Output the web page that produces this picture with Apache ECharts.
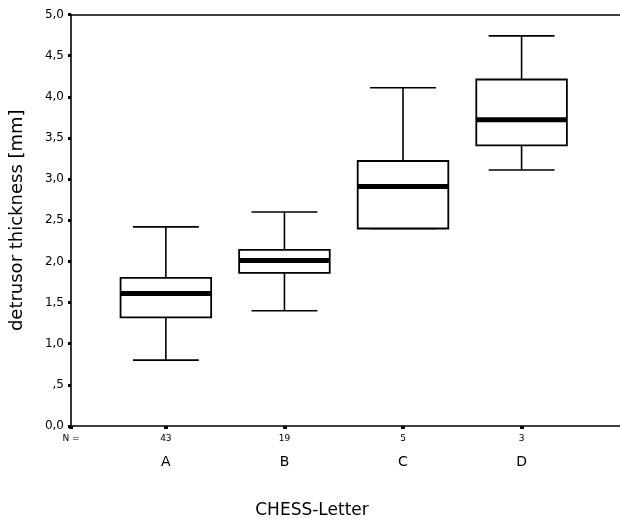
<!DOCTYPE html>
<html>
  <head>
    <meta charset="utf-8" />
    <title>Detrusor thickness by CHESS letter</title>
    <script src="https://cdn.jsdelivr.net/npm/echarts@6/dist/echarts.min.js"></script>
  </head>
  <body style="margin:0">
    <div id="main" style="width: 620px;height: 524px;"></div>
    <script type="text/javascript">
      // boxplot values (mm)
      var categories = ['A', 'B', 'C', 'D']
      var counts = [43, 19, 5, 3]
      var whiskerLow = [0.8, 1.4, 2.4, 3.11]
      var q1 = [1.32, 1.86, 2.4, 3.41]
      var median = [1.61, 2.01, 2.91, 3.72]
      var q3 = [1.8, 2.14, 3.22, 4.21]
      var whiskerHigh = [2.42, 2.6, 4.11, 4.74]
      var yTickLabels = ['0,0', ',5', '1,0', '1,5', '2,0', '2,5', '3,0', '3,5', '4,0', '4,5', '5,0']

      var myChart = echarts.init(document.getElementById('main'))
      var font = '"DejaVu Sans", sans-serif'
      var xMin = 0.2
      var xPos = categories.map(function (c, i) { return i + 1 })

      var boxData = categories.map(function (c, i) {
        return [i + 1, whiskerLow[i], q1[i], median[i], q3[i], whiskerHigh[i]]
      })

      function renderBox(params, api) {
        var x = api.value(0)
        var low = api.coord([x, api.value(1)])
        var lo = api.coord([x, api.value(2)])
        var mid = api.coord([x, api.value(3)])
        var hi = api.coord([x, api.value(4)])
        var high = api.coord([x, api.value(5)])
        var band = api.size([1, 0])[0]
        var bh = band * 0.382
        var ch = band * 0.278
        var cx = low[0]
        var line = { stroke: '#000', lineWidth: 1.6 }
        return {
          type: 'group',
          children: [
            { type: 'line', shape: { x1: cx, y1: high[1], x2: cx, y2: hi[1] }, style: line },
            { type: 'line', shape: { x1: cx - ch, y1: high[1], x2: cx + ch, y2: high[1] }, style: line },
            { type: 'line', shape: { x1: cx, y1: lo[1], x2: cx, y2: low[1] }, style: line },
            { type: 'line', shape: { x1: cx - ch, y1: low[1], x2: cx + ch, y2: low[1] }, style: line },
            { type: 'rect', shape: { x: cx - bh, y: hi[1], width: bh * 2, height: lo[1] - hi[1] },
              style: { fill: '#fff', stroke: '#000', lineWidth: 1.8 } },
            { type: 'line', shape: { x1: cx - bh, y1: mid[1], x2: cx + bh, y2: mid[1] },
              style: { stroke: '#000', lineWidth: 5 } }
          ]
        }
      }

      var option = {
        backgroundColor: '#fff',
        animation: false,
        grid: { left: 67.5, right: 0, top: 14.5, bottom: 97.5 },
        xAxis: [
          {
            type: 'value',
            min: xMin,
            max: 4.83,
            name: 'CHESS-Letter',
            nameLocation: 'middle',
            nameGap: 76,
            nameTextStyle: { fontFamily: font, fontSize: 17, color: '#000', padding: [0, 67, 0, 0] },
            axisLine: { lineStyle: { color: '#000', width: 1.6 } },
            axisTick: { customValues: [xMin].concat(xPos), length: 3, lineStyle: { color: '#000', width: 4 } },
            splitLine: { show: false },
            axisLabel: {
              customValues: [xMin].concat(xPos),
              margin: 6,
              formatter: function (v) {
                if (v < 1) return '{n|N =}'
                var i = Math.round(v) - 1
                return '{n|' + counts[i] + '}\n{l|' + categories[i] + '}'
              },
              rich: {
                n: { fontFamily: font, fontSize: 9, lineHeight: 14, color: '#000' },
                l: { fontFamily: font, fontSize: 14, lineHeight: 32, color: '#000' }
              }
            }
          },
          {
            type: 'value',
            position: 'top',
            min: xMin,
            max: 4.83,
            axisLine: { show: true, lineStyle: { color: '#000', width: 1.6 } },
            axisTick: { show: false },
            axisLabel: { show: false },
            splitLine: { show: false }
          }
        ],
        yAxis: {
          type: 'value',
          min: 0,
          max: 5,
          interval: 0.5,
          name: 'detrusor thickness [mm]',
          nameLocation: 'middle',
          nameGap: 45,
          nameTextStyle: { fontFamily: font, fontSize: 18, color: '#000' },
          axisLine: { show: true, lineStyle: { color: '#000', width: 1.6 } },
          axisTick: { show: true, length: 3, lineStyle: { color: '#000', width: 3 } },
          splitLine: { show: false },
          axisLabel: {
            margin: 7,
            fontFamily: font,
            fontSize: 12,
            color: '#000',
            formatter: function (v) { return yTickLabels[Math.round(v / 0.5)] }
          }
        },
        series: [
          {
            type: 'custom',
            renderItem: renderBox,
            encode: { x: 0, y: [1, 2, 3, 4, 5] },
            data: boxData,
            clip: false
          }
        ]
      }

      myChart.setOption(option)
    </script>
  </body>
</html>
